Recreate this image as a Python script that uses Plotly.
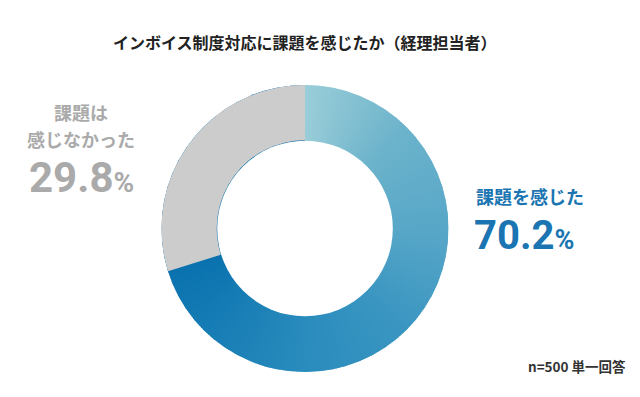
import base64
import math
import plotly.graph_objects as go

# ---- data ----
labels = ["課題を感じた", "課題は感じなかった"]
values = [70.2, 29.8]
title_text = "インボイス制度対応に課題を感じたか（経理担当者）"
note_text = "n=500 単一回答"

W, H = 640, 397
OFF = 8  # page body margin
FONT = "Noto Sans CJK JP"
NUMFONT = "Roboto"

# pie geometry (pixels in the screenshot)
cx, cy, R = 305 - OFF, 228.5 - OFF, 143.5
hole = 0.615

dom_x = [(cx - R) / W, (cx + R) / W]
dom_y = [1 - (cy + R) / H, 1 - (cy - R) / H]

# ---- conic gradient decoration under the first slice ----
stops = [(0, (0x9a, 0xcd, 0xd8)), (45, (0x6c, 0xb3, 0xcb)), (90, (0x58, 0xa7, 0xc8)),
         (135, (0x3b, 0x96, 0xc1)), (180, (0x2a, 0x8c, 0xbd)), (253, (0x0a, 0x72, 0xaf)),
         (360, (0x0a, 0x72, 0xaf))]
end_angle = 360 * values[0] / sum(values)
scale = end_angle / 253.0


def col_at(a):
    a = a / scale
    for (a0, c0), (a1, c1) in zip(stops[:-1], stops[1:]):
        if a0 <= a <= a1:
            t = (a - a0) / (a1 - a0) if a1 > a0 else 0
            return "#%02x%02x%02x" % tuple(round(c0[i] + (c1[i] - c0[i]) * t) for i in range(3))
    return "#%02x%02x%02x" % stops[-1][1]


paths = []
step = 1.0
a = 0.0
while a < 360:
    a2 = min(a + step + 0.6, 360.0)
    r = 1.02
    x1, y1 = r * math.sin(math.radians(a)), -r * math.cos(math.radians(a))
    x2, y2 = r * math.sin(math.radians(a2)), -r * math.cos(math.radians(a2))
    paths.append(f'<path d="M0,0 L{x1:.4f},{y1:.4f} A{r},{r} 0 0 1 {x2:.4f},{y2:.4f} Z" fill="{col_at(a + step / 2)}"/>')
    a += step
svg = ('<svg xmlns="http://www.w3.org/2000/svg" viewBox="-1 -1 2 2" width="400" height="400" preserveAspectRatio="none">'
       '<defs><clipPath id="c"><circle cx="0" cy="0" r="1"/></clipPath></defs>'
       '<g clip-path="url(#c)">' + "".join(paths) + '</g>'
       f'<circle cx="0" cy="0" r="{hole * 0.995}" fill="white"/></svg>')
src = "data:image/svg+xml;base64," + base64.b64encode(svg.encode()).decode()

fig = go.Figure()
fig.add_trace(go.Pie(
    labels=labels, values=values, hole=hole, sort=False, direction="clockwise", rotation=0,
    marker=dict(colors=["rgba(0,0,0,0)", "#cccccc"], line=dict(width=0)),
    textinfo="none", hoverinfo="label+percent", showlegend=False,
    domain=dict(x=dom_x, y=dom_y),
))

fig.add_layout_image(dict(
    source=src, xref="paper", yref="paper", x=dom_x[0], y=dom_y[1],
    sizex=dom_x[1] - dom_x[0], sizey=dom_y[1] - dom_y[0],
    xanchor="left", yanchor="top", sizing="stretch", layer="below",
))


def px(p):
    return (p - OFF) / W


def py(p):
    return 1 - (p - OFF) / H


gray = "#aaaaaa"
blue = "#1a75b2"

ann = [
    dict(text=f"<b>{title_text}</b>", x=px(304.5), y=py(42), font=dict(size=16, color="#222222"),
         xanchor="center", yanchor="middle"),
    dict(text="<b>課題は</b>", x=px(81), y=py(112), font=dict(size=18, color=gray), xanchor="center", yanchor="middle"),
    dict(text="<b>感じなかった</b>", x=px(81), y=py(139), font=dict(size=18, color=gray), xanchor="center", yanchor="middle"),
    dict(text=f"<b>{values[1]}<span style='font-size:28px'>%</span></b>", x=px(81), y=py(177),
         font=dict(size=42, color=gray, family=NUMFONT), xanchor="center", yanchor="middle"),
    dict(text="<b>課題を感じた</b>", x=px(474), y=py(196), font=dict(size=18, color=blue), xanchor="left", yanchor="middle"),
    dict(text=f"<b>{values[0]}<span style='font-size:27px'>%</span></b>", x=px(472), y=py(235),
         font=dict(size=40, color=blue, family=NUMFONT), xanchor="left", yanchor="middle"),
    dict(text=f"<b>{note_text}</b>", x=px(628), y=py(366), font=dict(size=13.5, color="#333333"),
         xanchor="right", yanchor="middle"),
]
for a_ in ann:
    a_.update(xref="paper", yref="paper", showarrow=False)
    fig.add_annotation(**a_)

fig.update_layout(
    width=W, height=H, margin=dict(l=0, r=0, t=0, b=0),
    paper_bgcolor="white", plot_bgcolor="white",
    font=dict(family=FONT),
)

fig.write_html("out.html")
